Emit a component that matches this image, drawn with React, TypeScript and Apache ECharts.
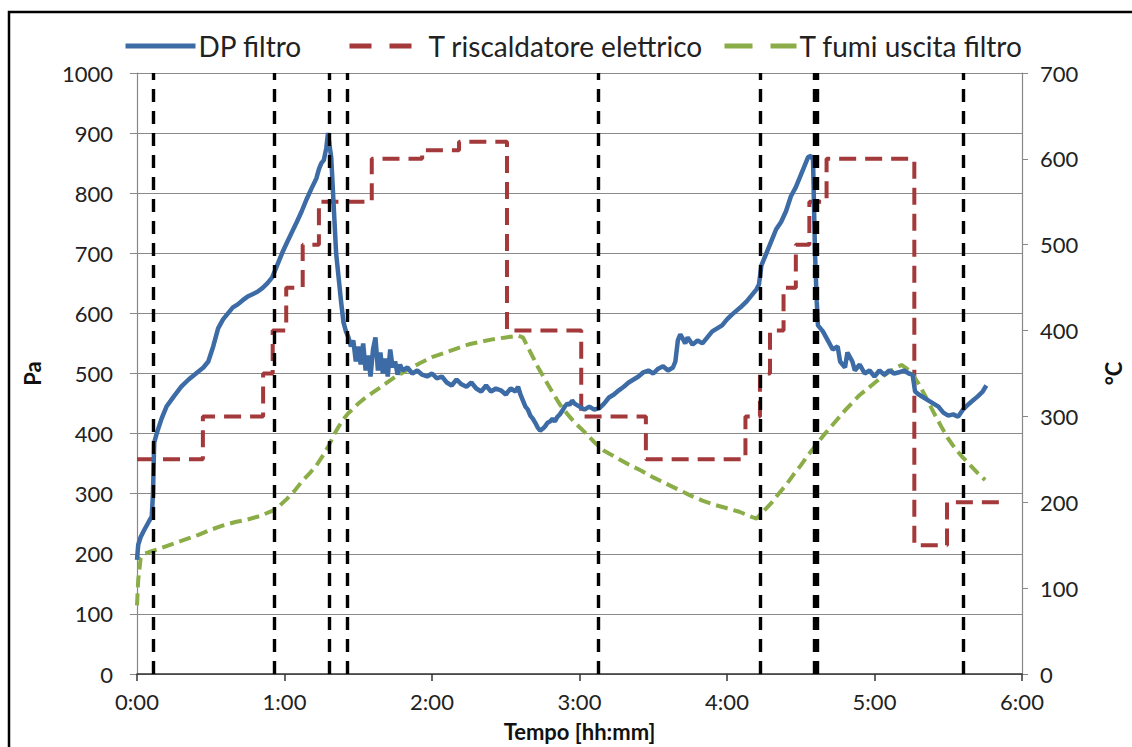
import React, { useEffect, useRef } from "react";
import * as echarts from "echarts";

// Time axis in minutes from test start (0:00 – 6:00)
const timeTicks = [0, 60, 120, 180, 240, 300, 360];

// DP filtro [Pa] — [minute, value]
const dpFiltro: [number, number][] = [
  [0, 190], [0.5, 215], [1.5, 228], [3, 240], [5, 255], [6, 262], [6.5, 300], [7, 385], [8, 400],
  [10, 425], [12, 445], [15, 462], [18, 478], [21, 490], [24, 500], [27, 510], [29, 520], [31, 545],
  [33, 575], [35, 590], [37, 600], [39, 610], [41, 615], [43, 622], [45, 628], [47, 632], [49, 636],
  [51, 642], [53, 650], [55, 660], [57, 680], [59, 700], [61, 718], [63, 735], [65, 752], [67, 770],
  [69, 790], [71, 808], [73, 825], [74, 840], [75, 850], [76, 855], [77, 875], [77.7, 900], [78.3, 880],
  [79, 860], [80, 780], [81, 700], [82, 660], [83, 620], [84, 585], [85, 570], [86, 560], [87, 545],
  [88, 555], [89, 520], [90, 545], [91, 515], [92, 550], [93, 505], [94, 530], [95, 495], [96, 540],
  [97, 560], [98, 505], [99, 535], [100, 500], [101, 525], [102, 495], [103, 540], [104, 510], [105, 520],
  [106, 498], [107, 515], [108, 505], [110, 510], [112, 500], [114, 505], [116, 498], [118, 495],
  [120, 500], [122, 492], [124, 495], [126, 485], [128, 480], [130, 490], [132, 482], [134, 478],
  [136, 485], [138, 475], [140, 470], [142, 480], [144, 470], [146, 475], [148, 472], [150, 465],
  [152, 475], [154, 470], [155, 478], [156, 465], [157, 455], [158, 445], [159, 440], [160, 430],
  [161, 425], [162, 418], [163, 410], [164, 405], [165, 408], [166, 412], [167, 418], [168, 420],
  [169, 425], [170, 420], [171, 428], [172, 432], [173, 438], [174, 445], [175, 450], [176, 448],
  [177, 455], [178, 450], [180, 445], [182, 440], [184, 445], [186, 440], [188, 442], [190, 450],
  [192, 460], [194, 465], [196, 472], [198, 478], [200, 485], [202, 490], [204, 495], [206, 502],
  [208, 505], [210, 500], [212, 508], [214, 512], [216, 505], [218, 510], [219, 520], [220, 555],
  [221, 565], [222, 558], [223, 550], [224, 560], [226, 548], [228, 555], [230, 550], [232, 560],
  [234, 570], [236, 575], [238, 580], [240, 590], [242, 598], [244, 605], [246, 612], [248, 620],
  [250, 630], [252, 640], [253, 648], [254, 680], [256, 700], [258, 720], [260, 740], [262, 752],
  [264, 770], [266, 795], [268, 810], [270, 830], [272, 850], [273, 860], [274.2, 862], [275, 855],
  [275.8, 700], [276.5, 620], [277, 580], [279, 570], [281, 555], [283, 540], [285, 545], [286, 520],
  [288, 510], [289, 535], [291, 520], [292, 505], [294, 515], [296, 500], [298, 505], [300, 495],
  [302, 505], [304, 498], [306, 505], [308, 500], [310, 502], [312, 505], [314, 500], [315.5, 498],
  [316.5, 470], [318, 465], [320, 460], [322, 455], [324, 450], [326, 445], [328, 435], [330, 430],
  [332, 432], [334, 428], [336, 440], [338, 448], [340, 455], [342, 462], [344, 470], [345.5, 480],
];

// T riscaldatore elettrico [°C] — set-point steps
const tRiscaldatore: [number, number][] = [
  [0, 250], [26.8, 250], [26.8, 300], [51.3, 300], [51.3, 350], [55.2, 350], [55.2, 400], [60.7, 400],
  [60.7, 450], [67.4, 450], [67.4, 500], [74, 500], [74, 550], [95.5, 550], [95.5, 600], [116, 600],
  [116, 610], [131, 610], [131, 620], [150.5, 620], [150.5, 400], [180.7, 400], [180.7, 300], [207, 300],
  [207, 250], [247.5, 250], [247.5, 300], [253.4, 300], [253.4, 350], [257.5, 350], [257.5, 400],
  [263, 400], [263, 450], [268, 450], [268, 500], [273.5, 500], [273.5, 550], [280.5, 550], [280.5, 600],
  [316.2, 600], [316.2, 150], [329.5, 150], [329.5, 200], [351, 200],
];

// T fumi uscita filtro [°C]
const tFumi: [number, number][] = [
  [0, 80], [0.5, 110], [1.5, 135], [3, 140], [6, 143], [10, 147], [15, 152], [20, 157], [25, 162],
  [30, 168], [35, 173], [40, 177], [45, 180], [50, 184], [55, 190], [58, 196], [61, 204], [64, 213],
  [67, 224], [70, 233], [73, 243], [76, 256], [78, 266], [80, 278], [82, 288], [84, 297], [86, 304],
  [88, 309], [90, 315], [93, 322], [96, 328], [100, 336], [105, 346], [110, 354], [115, 362], [120, 369],
  [125, 374], [130, 379], [135, 384], [140, 387], [145, 390], [150, 392], [155, 394], [157, 392],
  [160, 375], [163, 358], [166, 343], [169, 328], [172, 314], [175, 303], [178, 293], [182, 282],
  [186, 270], [190, 260], [195, 252], [200, 244], [205, 237], [210, 229], [215, 222], [220, 215],
  [225, 208], [230, 202], [235, 197], [240, 193], [245, 189], [250, 183], [252, 181], [255, 190],
  [258, 199], [261, 210], [264, 220], [267, 232], [270, 243], [273, 255], [276, 266], [279, 277],
  [282, 287], [285, 297], [288, 307], [291, 316], [294, 325], [297, 332], [300, 339], [303, 346],
  [306, 352], [309, 357], [311, 360], [313, 356], [315, 351], [318, 338], [321, 322], [324, 305],
  [327, 289], [330, 274], [333, 262], [336, 252], [339, 243], [342, 234], [345, 226],
];

// Event markers (minutes)
const eventTimes = [6.6, 55.7, 78, 85.5, 187.6, 253.6, 275.5, 276.7, 336.2];

const FONT = "Lato, 'Liberation Sans', sans-serif";
const BLUE = "#3C6BA5";
const RED = "#A3393A";
const GREEN = "#8BAD48";

const fmtTime = (v: number) => `${Math.floor(v / 60)}:${String(Math.round(v % 60)).padStart(2, "0")}`;

export default function App() {
  const ref = useRef<HTMLDivElement>(null);

  useEffect(() => {
    document.body.style.margin = "0";
    const chart = echarts.init(ref.current!, null, { renderer: "svg" });
    const tickText = { fontFamily: FONT, fontSize: 22, color: "#222" };
    const legendText = { fontFamily: FONT, fontSize: 28, color: "#222" };
    const nameText = { fontFamily: FONT, fontSize: 22, color: "#111", fontWeight: "bold" };
    const hideSymbol = { opacity: 0 };

    chart.setOption({
      animation: false,
      backgroundColor: "#fff",
      textStyle: { fontFamily: FONT },
      grid: { left: 137, right: 107, top: 73, bottom: 72 },
      legend: [
        {
          data: ["DP filtro"], left: 123, top: 32, padding: 0, itemWidth: 70, itemHeight: 28, itemGap: 0,
          itemStyle: hideSymbol,
          lineStyle: { width: 5 },
          textStyle: { ...legendText, padding: [0, 0, 0, -2] },
        },
        {
          data: ["T riscaldatore elettrico"], left: 347, top: 32, padding: 0, itemWidth: 64, itemHeight: 28,
          itemStyle: hideSymbol,
          lineStyle: { width: 5, type: [22, 18] },
          textStyle: { ...legendText, padding: [0, 0, 0, 10] },
        },
        {
          data: ["T fumi uscita filtro"], left: 722, top: 32, padding: 0, itemWidth: 72, itemHeight: 28,
          itemStyle: hideSymbol,
          lineStyle: { width: 5, type: [28, 18] },
          textStyle: { ...legendText, padding: [0, 0, 0, -2] },
        },
      ],
      xAxis: {
        type: "value",
        min: 0,
        max: 360,
        interval: 60,
        name: "Tempo [hh:mm]",
        nameLocation: "middle",
        nameGap: 46,
        nameTextStyle: nameText,
        axisLine: { show: true, lineStyle: { color: "#333", width: 1.5 } },
        axisTick: { show: true, length: 7, lineStyle: { color: "#333", width: 1.5 } },
        axisLabel: { ...tickText, margin: 16, formatter: (v: number) => (timeTicks.includes(v) ? fmtTime(v) : "") },
        splitLine: { show: false },
      },
      yAxis: [
        {
          type: "value",
          min: 0,
          max: 1000,
          interval: 100,
          name: "Pa",
          nameLocation: "middle",
          nameRotate: 90,
          nameGap: 94,
          nameTextStyle: nameText,
          axisLine: { show: true, lineStyle: { color: "#888", width: 1.2 } },
          axisTick: { show: true, length: 7, lineStyle: { color: "#888" } },
          axisLabel: { ...tickText, margin: 24, formatter: (v: number) => String(v) },
          splitLine: { show: true, lineStyle: { color: "#8a8a8a", width: 1.2 } },
        },
        {
          type: "value",
          min: 0,
          max: 700,
          interval: 100,
          name: "°C",
          nameLocation: "middle",
          nameRotate: 90,
          nameGap: 80,
          nameTextStyle: nameText,
          axisLine: { show: true, lineStyle: { color: "#888", width: 1.2 } },
          axisTick: { show: true, length: 6, lineStyle: { color: "#888" } },
          axisLabel: { ...tickText, margin: 18, formatter: (v: number) => String(v) },
          splitLine: { show: false },
        },
      ],
      series: [
        {
          name: "DP filtro",
          type: "line",
          yAxisIndex: 0,
          data: dpFiltro,
          symbol: "none",
          lineStyle: { color: BLUE, width: 4.5 },
          itemStyle: { color: BLUE },
          z: 3,
        },
        {
          name: "T riscaldatore elettrico",
          type: "line",
          yAxisIndex: 1,
          data: tRiscaldatore,
          symbol: "none",
          lineStyle: { color: RED, width: 4, type: [17, 9] },
          itemStyle: { color: RED },
          z: 2,
        },
        {
          name: "T fumi uscita filtro",
          type: "line",
          yAxisIndex: 1,
          data: tFumi,
          symbol: "none",
          lineStyle: { color: GREEN, width: 4, type: [12, 6] },
          itemStyle: { color: GREEN },
          z: 2,
        },
        {
          name: "eventi",
          type: "line",
          yAxisIndex: 0,
          data: [],
          z: 5,
          markLine: {
            silent: true,
            symbol: "none",
            label: { show: false },
            lineStyle: { color: "#000", width: 3.4, type: [13, 9] },
            data: eventTimes.map((t) => ({ xAxis: t })),
          },
        },
      ],
      graphic: [
        {
          type: "rect",
          silent: true,
          shape: { x: 9, y: 12, width: 1200, height: 800 },
          style: { fill: "none", stroke: "#000", lineWidth: 2.5 },
          z: 100,
        },
      ],
    });

    return () => chart.dispose();
  }, []);

  return <div ref={ref} style={{ width: 1132, height: 747 }} />;
}
